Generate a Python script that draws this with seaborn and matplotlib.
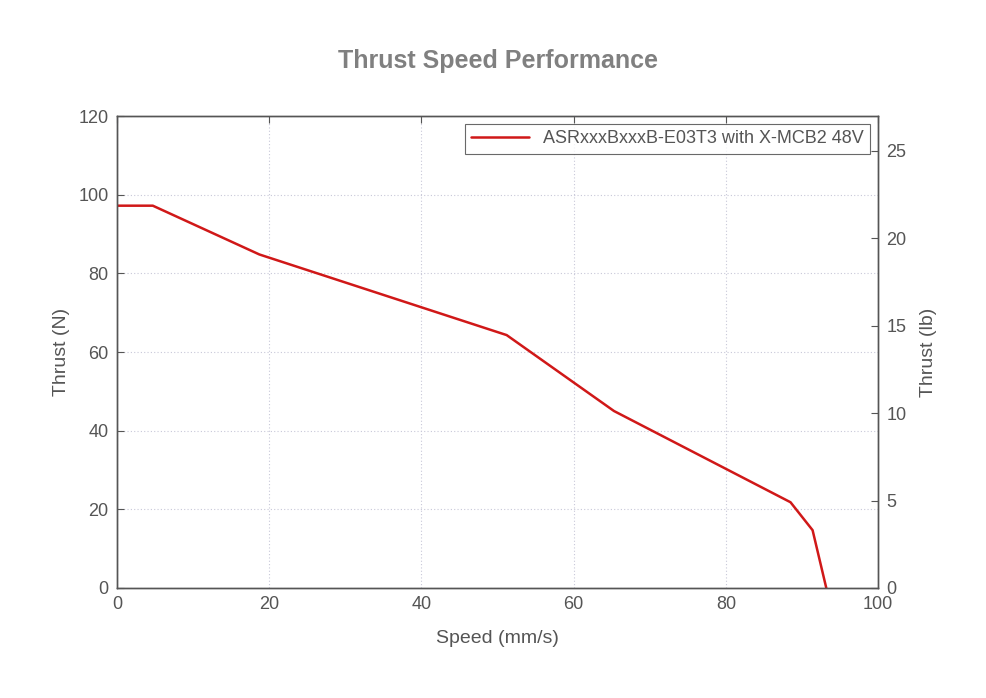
import matplotlib
matplotlib.use("Agg")
import matplotlib.pyplot as plt
import pandas as pd
import seaborn as sns

speed = [0, 4.7, 18.7, 51.2, 65.3, 88.5, 91.4, 93.2]
thrust_n = [97.2, 97.2, 84.8, 64.3, 45.0, 21.8, 14.7, 0]
series_name = "ASRxxxBxxxB-E03T3 with X-MCB2 48V"
x_ticks = [0, 20, 40, 60, 80, 100]
y_ticks = [0, 20, 40, 60, 80, 100, 120]
lb_ticks = [0, 5, 10, 15, 20, 25]
N_PER_LB = 4.44822

df = pd.DataFrame({"Speed": speed, "Thrust": thrust_n, "Series": series_name})

sns.set_style("white")
plt.rcParams["font.family"] = ["Liberation Sans", "DejaVu Sans"]
text_color = "#555555"
spine_color = "#555555"

fig = plt.figure(figsize=(9.86, 6.98), dpi=100)
ax = fig.add_axes([0.1187, 0.1576, 0.7718, 0.6762])

sns.lineplot(data=df, x="Speed", y="Thrust", hue="Series", palette=["#d01818"],
             linewidth=1.8, ax=ax)

ax.set_xlim(0, 100)
ax.set_ylim(0, 120)
ax.set_xticks(x_ticks)
ax.set_yticks(y_ticks)
ax.grid(True, linestyle=(0, (1, 2)), color="#c8c8d8", linewidth=0.8)
ax.set_xlabel("Speed (mm/s)", fontsize=14, color=text_color, labelpad=12)
ax.set_ylabel("Thrust (N)", fontsize=14, color=text_color, labelpad=6)
ax.tick_params(direction="in", length=5, labelsize=13, labelcolor=text_color,
               color=spine_color, top=True, right=False, pad=6)

ax2 = ax.twinx()
ax2.set_ylim(0, 120 / N_PER_LB)
ax2.set_yticks(lb_ticks)
ax2.set_ylabel("Thrust (lb)", fontsize=14, color=text_color, labelpad=10)
ax2.tick_params(direction="in", length=5, labelsize=13, labelcolor=text_color,
                color=spine_color, pad=6)

for a in (ax, ax2):
    for s in a.spines.values():
        s.set_color(spine_color)
        s.set_linewidth(1.0)

leg = ax.legend(loc="upper right", fontsize=13, frameon=True, fancybox=False,
                handlelength=3.2, handletextpad=0.8, borderpad=0.35,
                borderaxespad=0, bbox_to_anchor=(0.990, 0.983))
leg.get_frame().set_edgecolor("#444444")
leg.get_frame().set_linewidth(0.8)
for t in leg.get_texts():
    t.set_color(text_color)

fig.suptitle("Thrust Speed Performance", x=0.505, y=0.93, fontsize=18,
             fontweight="bold", color="#808080")

fig.savefig("out.png", dpi=100)
